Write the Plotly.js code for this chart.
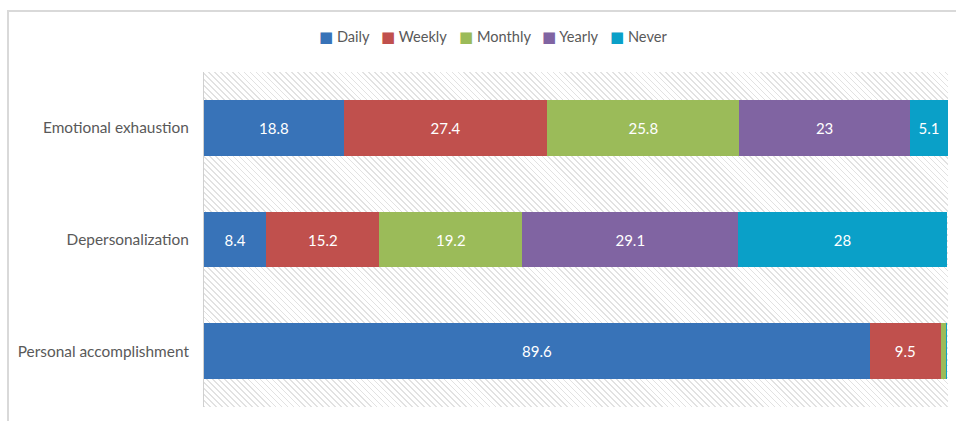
<!DOCTYPE html>
<html>
<head>
<meta charset="utf-8">
<script src="https://cdn.plot.ly/plotly-3.0.1.min.js"></script>
<style>
  html, body { margin: 0; padding: 0; background: #ffffff; }
  #wrap { position: relative; width: 956px; height: 421px; overflow: hidden; }
  #frame { position: absolute; left: 7px; top: 10px; width: 1000px; height: 500px;
           border-left: 2px solid #d9d9d9; border-top: 2px solid #d9d9d9; }
  #hatch { position: absolute; left: 204px; top: 72px; width: 744px; height: 335px;
           background: repeating-linear-gradient(45deg, #e2e2e2 0px, #e2e2e2 1.2px, #ffffff 1.2px, #ffffff 4.2px); }
  #chart { position: absolute; left: 0; top: 0; width: 956px; height: 421px; }
</style>
</head>
<body>
<div id="wrap">
  <div id="frame"></div>
  <div id="hatch"></div>
  <div id="chart"></div>
</div>
<script>
const categories = ["Emotional exhaustion", "Depersonalization", "Personal accomplishment"];
const seriesNames = ["Daily", "Weekly", "Monthly", "Yearly", "Never"];
const daily   = [18.8, 8.4, 89.6];
const weekly  = [27.4, 15.2, 9.5];
const monthly = [25.8, 19.2, 0.7];
const yearly  = [23, 29.1, 0];
const never   = [5.1, 28, 0.2];
const colors = ["#3873b8", "#c0504d", "#9bbb59", "#8064a2", "#0aa0c8"];

const allValues = [daily, weekly, monthly, yearly, never];
const font = "Lato, 'Open Sans', sans-serif";

const traces = allValues.map((vals, i) => ({
  type: "bar",
  orientation: "h",
  name: seriesNames[i],
  y: categories,
  x: vals,
  text: vals.map(v => v >= 2 ? String(v) : ""),
  textposition: "inside",
  insidetextanchor: "middle",
  textangle: 0,
  constraintext: "none",
  textfont: { color: "#ffffff", size: 15, family: font },
  marker: { color: colors[i], line: { width: 0 } },
  hoverinfo: "x+name",
  showlegend: false
}));

// legend entries drawn as annotations (positions in paper fractions)
const legendX = [0.1519, 0.2352, 0.3401, 0.4516, 0.5430];
const annotations = seriesNames.map((n, i) => ({
  xref: "paper", yref: "paper",
  x: legendX[i], y: 1.1045,
  xanchor: "left", yanchor: "middle",
  showarrow: false,
  text: "<span style='color:" + colors[i] + ";font-family:DejaVu Sans;font-size:15px'>■</span> " + n,
  font: { family: font, size: 14.6, color: "#595959" }
}));

const layout = {
  width: 956,
  height: 421,
  margin: { l: 204, r: 8, t: 72, b: 14, pad: 0 },
  barmode: "stack",
  bargap: 0.5,
  paper_bgcolor: "rgba(0,0,0,0)",
  plot_bgcolor: "rgba(0,0,0,0)",
  showlegend: false,
  annotations: annotations,
  xaxis: {
    range: [0, 100.1],
    showgrid: false,
    zeroline: false,
    showticklabels: false,
    showline: false,
    fixedrange: true
  },
  yaxis: {
    type: "category",
    autorange: "reversed",
    showgrid: false,
    zeroline: false,
    showline: true,
    linecolor: "#d0d0d0",
    linewidth: 1,
    ticks: "",
    ticklabelstandoff: 11,
    tickfont: { family: font, size: 15.4, color: "#595959" },
    fixedrange: true
  },
  font: { family: font, color: "#595959" }
};

Plotly.newPlot("chart", traces, layout, { displayModeBar: false, staticPlot: true });
</script>
</body>
</html>
